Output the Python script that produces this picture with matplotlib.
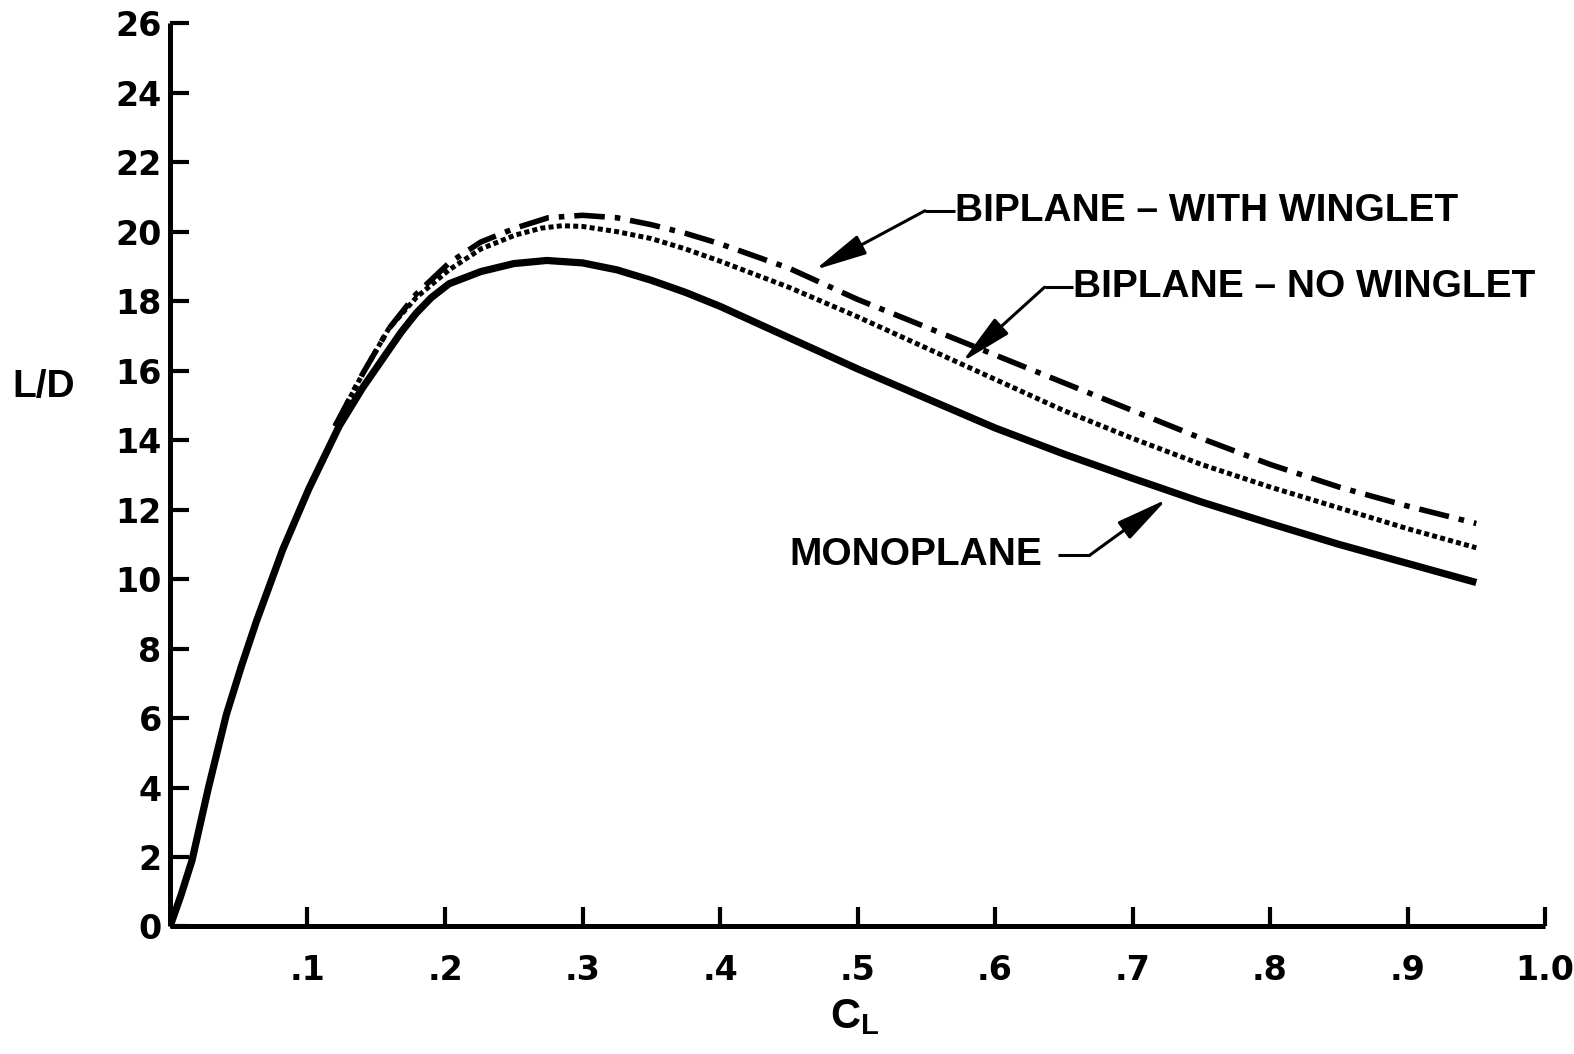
#!/usr/bin/env python3
import matplotlib
matplotlib.use('Agg')
import matplotlib.pyplot as plt

# L/D vs C_L
mono_cl = [0, 0.008, 0.016, 0.028, 0.041, 0.052, 0.063, 0.082, 0.101, 0.123, 0.14, 0.154,
           0.168, 0.179, 0.19, 0.203, 0.226, 0.25, 0.274, 0.3, 0.325, 0.35, 0.375, 0.4,
           0.45, 0.5, 0.55, 0.6, 0.65, 0.7, 0.75, 0.8, 0.85, 0.9, 0.95]
mono_ld = [0, 0.9, 1.9, 4.0, 6.1, 7.5, 8.8, 10.85, 12.6, 14.4, 15.5, 16.3,
           17.1, 17.65, 18.1, 18.5, 18.85, 19.08, 19.17, 19.1, 18.9, 18.6, 18.25, 17.85,
           16.95, 16.05, 15.2, 14.35, 13.6, 12.9, 12.22, 11.6, 11.0, 10.45, 9.9]

nowing_cl = [0.12, 0.14, 0.159, 0.179, 0.203, 0.226, 0.251, 0.27, 0.285, 0.3, 0.325, 0.35,
             0.375, 0.4, 0.45, 0.5, 0.55, 0.6, 0.65, 0.7, 0.75, 0.8, 0.85, 0.9, 0.95]
nowing_ld = [14.4, 15.9, 17.2, 18.1, 18.9, 19.5, 19.9, 20.1, 20.17, 20.15, 20.0, 19.8,
             19.5, 19.15, 18.4, 17.55, 16.65, 15.75, 14.85, 14.05, 13.3, 12.65, 12.05, 11.45, 10.9]

wing_cl = [0.12, 0.14, 0.159, 0.179, 0.203, 0.226, 0.251, 0.275, 0.3, 0.325, 0.35, 0.375,
           0.4, 0.45, 0.5, 0.55, 0.6, 0.65, 0.7, 0.75, 0.8, 0.85, 0.9, 0.95]
wing_ld = [14.4, 15.9, 17.2, 18.2, 19.1, 19.7, 20.1, 20.4, 20.47, 20.4, 20.2, 19.95,
           19.65, 18.95, 18.05, 17.25, 16.45, 15.65, 14.85, 14.05, 13.3, 12.65, 12.1, 11.6]

x_ticks = [0.1, 0.2, 0.3, 0.4, 0.5, 0.6, 0.7, 0.8, 0.9, 1.0]
x_labels = ['.1', '.2', '.3', '.4', '.5', '.6', '.7', '.8', '.9', '1.0']
y_ticks = list(range(0, 27, 2))

plt.rcParams['font.family'] = ['Liberation Sans', 'DejaVu Sans']
plt.rcParams['font.weight'] = 'bold'
plt.rcParams['mathtext.fontset'] = 'custom'
plt.rcParams['mathtext.bf'] = 'Liberation Sans:bold'
plt.rcParams['mathtext.rm'] = 'Liberation Sans:bold'

ARROW = dict(arrowstyle='-|>,head_length=1.6,head_width=0.32', mutation_scale=20,
             lw=2.2, color='black', shrinkA=0, shrinkB=0)


def label_arrow(ax, text, text_xy, bend_xy, tip_xy, ha='left'):
    # leader: short horizontal stroke from the text, then an arrow to the curve
    ax.plot([text_xy[0], bend_xy[0]], [text_xy[1], bend_xy[1]], color='black', lw=2.2,
            solid_capstyle='butt')
    ax.annotate('', xy=tip_xy, xytext=bend_xy, arrowprops=ARROW)
    ax.text(text_xy[0], text_xy[1], text, ha=ha, va='center', fontsize=28,
            fontweight='bold')


fig = plt.figure(figsize=(15.74, 10.54), dpi=100)
ax = fig.add_axes([0.108, 0.121, 0.8736, 0.857])

ax.plot(mono_cl, mono_ld, color='black', lw=5.2, solid_capstyle='butt')
ax.plot(nowing_cl, nowing_ld, color='black', lw=3.6, dashes=(1.0, 0.65))
ax.plot(wing_cl, wing_ld, color='black', lw=4, dashes=(5.5, 1.8, 1, 1.8))

ax.set_xlim(0, 1.0)
ax.set_ylim(0, 26)
ax.set_xticks(x_ticks)
ax.set_xticklabels(x_labels)
ax.set_yticks(y_ticks)

for side in ['top', 'right']:
    ax.spines[side].set_visible(False)
for side in ['left', 'bottom']:
    ax.spines[side].set_linewidth(3.6)
    ax.spines[side].set_capstyle('butt')

ax.tick_params(direction='in', length=14, width=3, labelsize=24)
ax.tick_params(axis='x', pad=20)
ax.tick_params(axis='y', pad=6)
for lab in ax.get_xticklabels() + ax.get_yticklabels():
    lab.set_fontfamily('DejaVu Sans')
    lab.set_fontweight('bold')

ax.set_ylabel('L/D', rotation=0, fontsize=28, fontweight='bold')
ax.yaxis.set_label_coords(-0.092, 0.577)
ax.set_xlabel(r'$\mathbf{C}_\mathbf{L}$', fontsize=30)
ax.xaxis.set_label_coords(0.498, -0.078)

label_arrow(ax, 'BIPLANE – WITH WINGLET', (0.571, 20.6), (0.549, 20.6), (0.469, 18.9))
label_arrow(ax, 'BIPLANE – NO WINGLET', (0.657, 18.4), (0.636, 18.4), (0.576, 16.25))

# monoplane label sits left of its leader
ax.text(0.634, 10.69, 'MONOPLANE', ha='right', va='center', fontsize=28, fontweight='bold')
ax.plot([0.646, 0.669], [10.69, 10.69], color='black', lw=2.2, solid_capstyle='butt')
ax.annotate('', xy=(0.725, 12.3), xytext=(0.669, 10.69), arrowprops=ARROW)

fig.savefig('out.png', dpi=100)
plt.close(fig)
